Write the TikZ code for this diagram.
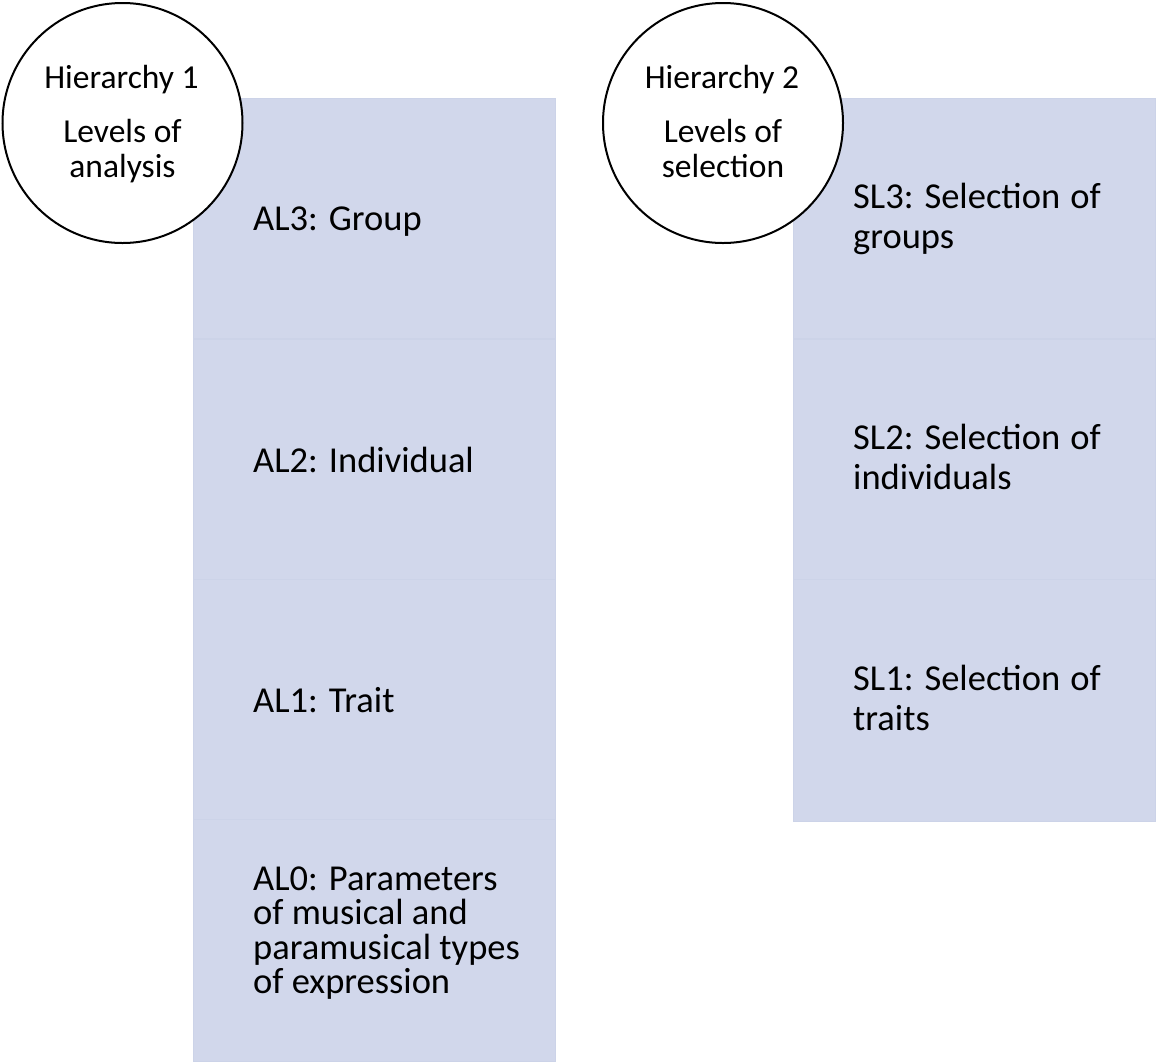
\documentclass[tikz,border=0pt]{standalone}
\usepackage{fontspec}
\setmainfont{Carlito}
\definecolor{blkfill}{RGB}{209,215,235}
\definecolor{blkline}{RGB}{204,211,232}
\begin{document}
\begin{tikzpicture}[x=1pt,y=-1pt,
  blk/.style={rectangle, fill=blkfill, draw=blkline, line width=0.8pt,
    minimum width=362pt, minimum height=240pt, inner sep=0pt, anchor=north west},
  lbl/.style={font=\fontsize{36.5}{40}\selectfont, inner sep=0pt, anchor=base west},
  hier/.style={circle, draw=black, line width=2pt, fill=white, minimum size=240pt, inner sep=0pt},
  ctext/.style={font=\fontsize{33.5}{36}\selectfont, inner sep=0pt, anchor=base}
]
\useasboundingbox (0,0) rectangle (1157,1061);
% left column
\node[blk] (al3) at (193,98) {};
\node[blk] (al2) at (193,339) {};
\node[blk] (al1) at (193,579) {};
\node[blk, minimum height=242pt] (al0) at (193,819) {};
% right column
\node[blk] (sl3) at (793,98) {};
\node[blk] (sl2) at (793,339) {};
\node[blk, minimum height=242pt] (sl1) at (793,579) {};
% left labels
\node[lbl] (tal3) at (253,230) {AL3: Group};
\node[lbl] (tal2) at (253,472) {AL2: Individual};
\node[lbl] (tal1) at (253,712) {AL1: Trait};
\node[lbl] (tal0a) at (253,890) {AL0: Parameters};
\node[lbl] (tal0b) at (253,924.5) {of musical and};
\node[lbl] (tal0c) at (253,959) {paramusical types};
\node[lbl] (tal0d) at (253,993.5) {of expression};
% right labels
\node[lbl] (tsl3a) at (853,208.5) {SL3: Selection\hspace{2pt} of};
\node[lbl] (tsl3b) at (853,248.5) {groups};
\node[lbl] (tsl2a) at (853,449.5) {SL2: Selection\hspace{2pt} of};
\node[lbl] (tsl2b) at (853,489.5) {individuals};
\node[lbl] (tsl1a) at (853,690) {SL1: Selection\hspace{2pt} of};
\node[lbl] (tsl1b) at (853,730) {traits};
% circles
\node[hier] (h1) at (122.5,123) {};
\node[hier] (h2) at (723,123) {};
\node[ctext] (th1a) at (121.5,88) {Hierarchy 1};
\node[ctext] (th1b) at (122.5,142) {Levels of};
\node[ctext] (th1c) at (122.5,177) {analysis};
\node[ctext] (th2a) at (722,88) {Hierarchy 2};
\node[ctext] (th2b) at (723,142) {Levels of};
\node[ctext] (th2c) at (723,177) {selection};
\end{tikzpicture}
\end{document}
